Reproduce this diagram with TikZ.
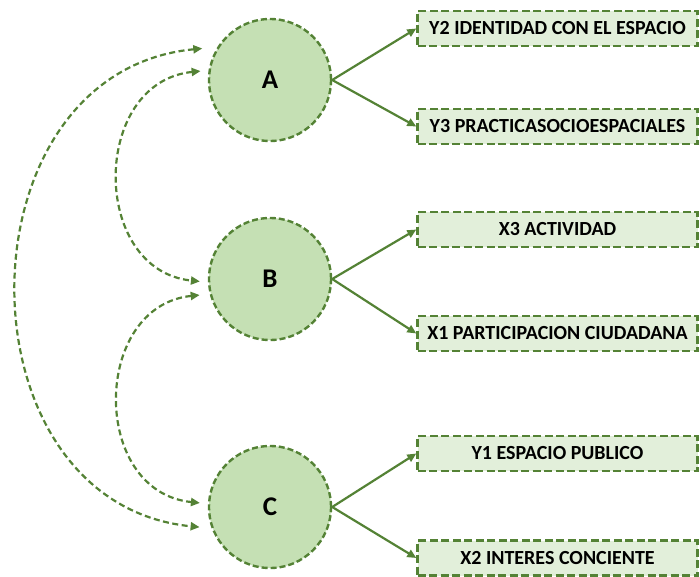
\documentclass[tikz,border=0pt]{standalone}
\usepackage{fontspec}
\setmainfont{Carlito}
\usetikzlibrary{arrows.meta}
\definecolor{leafgreen}{HTML}{548235}
\definecolor{circfill}{HTML}{C5E0B4}
\definecolor{boxfill}{HTML}{E2EFDA}
\tikzset{
  factor/.style={circle, draw=leafgreen, fill=circfill, line width=2.4pt,
    dash pattern=on 6pt off 3pt, minimum size=122pt, inner sep=0pt,
    font=\fontsize{27}{30}\selectfont\bfseries},
  indicator/.style={rectangle, draw=leafgreen, fill=boxfill, line width=2.4pt,
    dash pattern=on 8pt off 3.5pt, minimum width=280pt, minimum height=35pt,
    inner sep=0pt, font=\fontsize{20}{22}\selectfont\bfseries},
  tip/.style={-{Triangle[length=9pt,width=8pt]}},
  bothtip/.style={{Triangle[length=9pt,width=8pt]}-{Triangle[length=9pt,width=8pt]}}
}
\begin{document}
\begin{tikzpicture}[x=1pt,y=1pt]
      \useasboundingbox (0,0) rectangle (700,-577);
      \draw
        (270,-80) node[factor] (A){A}
        (270,-279) node[factor] (B){B}
        (270,-507) node[factor] (C){C}
        (557.5,-28.5) node[indicator] (y2){Y2 IDENTIDAD CON EL ESPACIO}
        (557.5,-126.5) node[indicator] (y3){Y3 PRACTICASOCIOESPACIALES}
        (557.5,-229.5) node[indicator] (x3){X3 ACTIVIDAD}
        (557.5,-333.5) node[indicator] (x1){X1 PARTICIPACION CIUDADANA}
        (557.5,-453.5) node[indicator] (y1){Y1 ESPACIO PUBLICO}
        (557.5,-558) node[indicator] (x2){X2 INTERES CONCIENTE};
      \begin{scope}[tip, draw=leafgreen, line width=2.2pt]
        \draw (A.east) to (y2.west);
        \draw (A.east) to (y3.west);
        \draw (B.east) to (x3.west);
        \draw (B.east) to (x1.west);
        \draw (C.east) to (y1.west);
        \draw (C.east) to (x2.west);
      \end{scope}
      \begin{scope}[bothtip, draw=leafgreen, fill=none, line width=2.2pt,
          dash pattern=on 6pt off 3.5pt]
        \draw[shorten <=15pt, shorten >=12pt]
          (A.148) .. controls +(-262,-25) and +(-257,25) .. (C.200);
        \draw[shorten <=8pt, shorten >=8pt]
          (A.171) .. controls +(-118,-12) and +(-118,12) .. (B.183);
        \draw[shorten <=10pt, shorten >=8pt]
          (B.194) .. controls +(-118,-12) and +(-118,12) .. (C.177);
      \end{scope}
    \end{tikzpicture}
\end{document}
